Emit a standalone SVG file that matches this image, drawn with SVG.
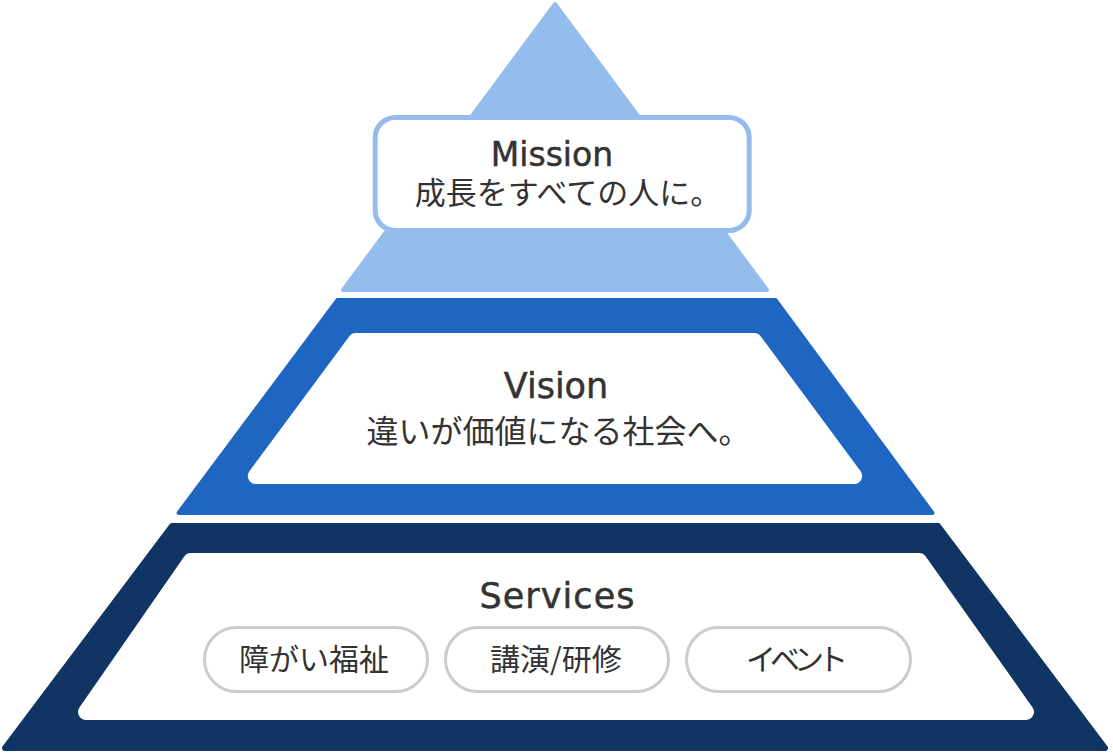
<svg xmlns="http://www.w3.org/2000/svg" width="1113" height="753" viewBox="0 0 1113 753">
<style>
.t{fill:#333333;text-anchor:middle}
.title{font-family:"DejaVu Sans","Noto Sans",sans-serif;font-weight:400;stroke:#333333;stroke-width:0.5}
.jp{font-family:"Noto Sans CJK JP",sans-serif;font-weight:400}
.pilltxt{font-family:"Noto Sans CJK JP",sans-serif;font-size:30px;font-weight:400}
.pill{fill:#ffffff;stroke:#cccccc;stroke-width:3}
.inner{fill:#ffffff;stroke:#ffffff;stroke-width:16;stroke-linejoin:round}
</style>
<rect width="1113" height="753" fill="#ffffff"/>
<g id="tier-mission">
<polygon points="555,4 343,290 767,290" fill="#94bdee" stroke="#94bdee" stroke-width="4" stroke-linejoin="round"/>
<rect x="375.2" y="117.5" width="374" height="113" rx="20" fill="#ffffff" stroke="#94bdee" stroke-width="5"/>
<text class="t title" x="552" y="166" font-size="33">Mission</text>
<text class="t jp" x="568" y="204" font-size="31">成長をすべての人に。</text>
</g>
<g id="tier-vision">
<polygon points="337.5,300 775.5,300 932.5,513 178.5,513" fill="#1e66c1" stroke="#1e66c1" stroke-width="4" stroke-linejoin="round"/>
<polygon class="inner" points="355.8,341 754.2,341 854.2,476 255.8,476"/>
<text class="t title" x="556" y="398" font-size="35">Vision</text>
<text class="t jp" x="558.5" y="443" font-size="32">違いが価値になる社会へ。</text>
</g>
<g id="tier-services">
<polygon points="172,526 938,526 1105,748 5,748" fill="#103463" stroke="#103463" stroke-width="6" stroke-linejoin="round"/>
<polygon class="inner" points="190.8,561 919.2,561 1026,712 86,712"/>
<text class="t title" x="557" y="608" font-size="35" textLength="155" lengthAdjust="spacing">Services</text>
</g>
<g id="pill-welfare">
<rect class="pill" x="204.5" y="627.5" width="223" height="64" rx="32"/>
<text class="t pilltxt" x="314" y="670">障がい福祉</text>
</g>
<g id="pill-lecture">
<rect class="pill" x="445.5" y="627.5" width="223" height="64" rx="32"/>
<text class="t pilltxt" x="556" y="670">講演/研修</text>
</g>
<g id="pill-event">
<rect class="pill" x="686.5" y="627.5" width="224" height="64" rx="32"/>
<text class="t pilltxt" x="797" y="670" textLength="102" lengthAdjust="spacing">イベント</text>
</g>
<g id="connectors"/>
</svg>
